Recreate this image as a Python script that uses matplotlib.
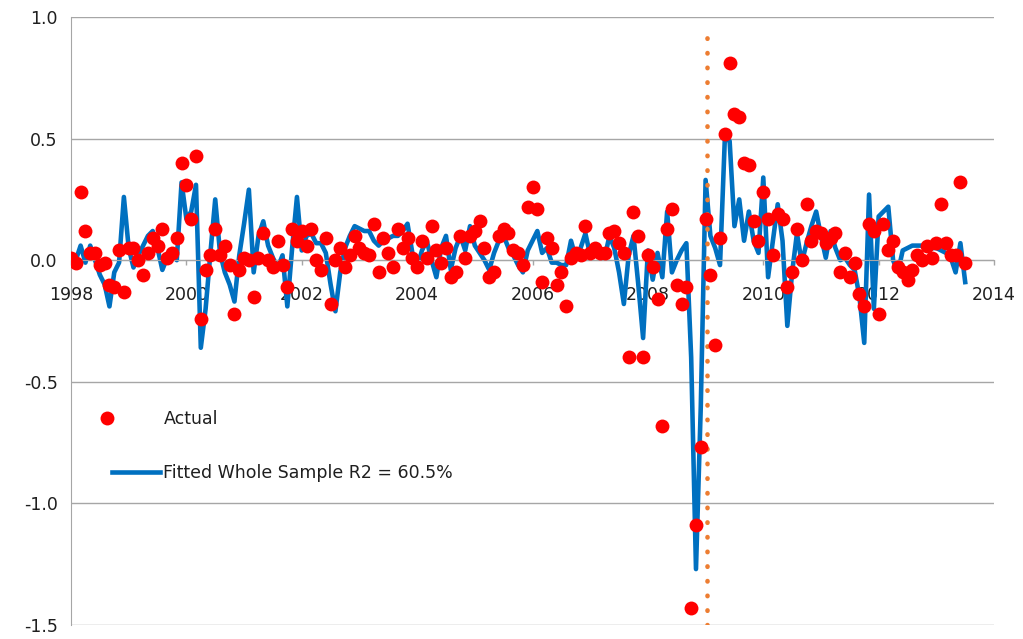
import numpy as np
import matplotlib
matplotlib.use("Agg")
import matplotlib.pyplot as plt
from matplotlib.legend_handler import HandlerLine2D

START_YEAR = 1998
EVENT_YEAR = 2009.02

X_TICKS = [1998, 2000, 2002, 2004, 2006, 2008, 2010, 2012, 2014]
Y_TICKS = [-1.5, -1.0, -0.5, 0.0, 0.5, 1.0]

LABEL_ACTUAL = "Actual"
LABEL_FITTED = "Fitted Whole Sample R2 = 60.5%"

# monthly values, Jan 1998 onwards
actual = [
    0.01, -0.01, 0.28, 0.12, 0.03, 0.03, -0.02, -0.01, -0.10, -0.11,
    0.04, -0.13, 0.05, 0.05, 0.00, -0.06, 0.03, 0.09, 0.06, 0.13,
    0.01, 0.03, 0.09, 0.40, 0.31, 0.17, 0.43, -0.24, -0.04, 0.02,
    0.13,
    0.02, 0.06, -0.02, -0.22, -0.04, 0.01, 0.00, -0.15, 0.01, 0.11,
    0.00, -0.03, 0.08, -0.02, -0.11, 0.13, 0.08, 0.12, 0.06, 0.13,
    0.00, -0.04, 0.09, -0.18, 0.00, 0.05, -0.03, 0.02, 0.10, 0.05,
    0.03, 0.02, 0.15,
    -0.05, 0.09, 0.03, -0.03, 0.13, 0.05, 0.09, 0.01, -0.03, 0.08,
    0.01, 0.14, 0.04, -0.01, 0.05, -0.07, -0.05, 0.10, 0.01, 0.10,
    0.12, 0.16, 0.05, -0.07, -0.05, 0.10, 0.13, 0.11, 0.04, 0.03,
    -0.02,
    0.22, 0.30, 0.21, -0.09, 0.09, 0.05, -0.10, -0.05, -0.19, 0.01,
    0.03, 0.02, 0.14, 0.03, 0.05, 0.03, 0.03, 0.11, 0.12, 0.07,
    0.03, -0.40, 0.20, 0.10, -0.40, 0.02, -0.03, -0.16, -0.68, 0.13,
    0.21, -0.10, -0.18, -0.11, -1.43, -1.09, -0.77, 0.17, -0.06, -0.35,
    0.09, 0.52, 0.81, 0.60, 0.59, 0.40, 0.39,
    0.16, 0.08, 0.28, 0.17, 0.02, 0.19, 0.17, -0.11, -0.05, 0.13,
    0.00, 0.23, 0.08, 0.12, 0.11, 0.07, 0.09, 0.11, -0.05, 0.03,
    -0.07, -0.01, -0.14, -0.19, 0.15, 0.12, -0.22, 0.15, 0.04, 0.08,
    -0.03, -0.05, -0.08, -0.04, 0.02, 0.00, 0.06, 0.01, 0.07, 0.23,
    0.07, 0.02, 0.02, 0.32, -0.01,
]

fitted = [
    0.01, 0.00, 0.06, -0.01, 0.06, 0.00, -0.06, -0.10, -0.19, -0.05,
    -0.01, 0.26, 0.05, -0.03, 0.02, 0.06, 0.10, 0.12, 0.05, -0.04,
    0.01, 0.03, 0.00, 0.32, 0.17, 0.20, 0.31, -0.36, -0.20, 0.03,
    0.25, 0.03, -0.05, -0.10, -0.17, 0.02, 0.15, 0.29, -0.05, 0.10,
    0.16, 0.06, 0.01, -0.03, 0.02, -0.19, 0.05, 0.26, 0.04, 0.10,
    0.11, 0.07, 0.07, 0.03, -0.10, -0.21, -0.05, 0.05, 0.10, 0.14,
    0.13, 0.12, 0.12, 0.08, 0.06, 0.08, 0.09, 0.10, 0.10, 0.12,
    0.15, 0.03, -0.03, 0.04, 0.08, 0.00, -0.07, 0.05, 0.10, -0.04,
    0.05, 0.10, 0.04, 0.14, 0.06, 0.03, 0.00, -0.04, 0.03, 0.08,
    0.10, 0.05, 0.02, -0.02, -0.05, 0.04, 0.08, 0.12, 0.03, 0.05,
    -0.01, -0.01, -0.02, -0.02, 0.08, 0.01, 0.05, 0.11, 0.02, 0.04,
    0.03, 0.01, 0.10, 0.05, -0.05, -0.18, 0.02, 0.10, -0.10, -0.32,
    0.04, -0.08, 0.03, -0.07, 0.20, -0.05, 0.00, 0.04, 0.07, -0.40,
    -1.27, -0.60, 0.33, 0.10, 0.05, -0.02, 0.50, 0.49, 0.14, 0.25,
    0.08, 0.20, 0.08, 0.03, 0.34, -0.07, 0.08, 0.23, 0.08, -0.27,
    -0.05, 0.11, -0.01, 0.07, 0.14, 0.20, 0.10, 0.01, 0.12, 0.05,
    0.00, 0.01, -0.02, -0.04, -0.15, -0.34, 0.27, -0.20, 0.18, 0.20,
    0.22, 0.00, -0.05, 0.04, 0.05, 0.06, 0.06, 0.06, 0.05, 0.05,
    0.05, 0.04, 0.03, 0.01, -0.05, 0.07, -0.09,
]

assert len(actual) == len(fitted)
months = START_YEAR + np.arange(len(actual)) / 12.0

GRID = "#A6A6A6"
TEXT = "#1F1F1F"
FS = 12.5


class LeftMarkerHandler(HandlerLine2D):
    # Excel puts the legend dot left of the line sample
    def get_xdata(self, legend, xdescent, ydescent, width, height, fontsize):
        mx = -xdescent - 0.1 * width
        return np.array([mx, mx]), np.array([mx])


fig = plt.figure(figsize=(10.23, 6.39), dpi=100)
ax = fig.add_axes([0.0694, 0.0219, 0.9023, 0.9515])

fit_line, = ax.plot(months, fitted, color="#0070C0", lw=3.3,
                    solid_joinstyle="round", zorder=2, label=LABEL_FITTED)
ax.axvline(EVENT_YEAR, ymin=0.0, ymax=0.988, color="#ED7D31", lw=3.3,
           linestyle=(0, (0.1, 3.1)), dash_capstyle="round", zorder=3)
dots, = ax.plot(months, actual, "o", color="#FF0000", ms=10, mew=0,
                zorder=4, label=LABEL_ACTUAL)

ax.set_xlim(X_TICKS[0], X_TICKS[-1])
ax.set_ylim(Y_TICKS[0], Y_TICKS[-1])

ax.set_xticks(X_TICKS)
ax.set_xticklabels([str(y) for y in X_TICKS])
ax.set_yticks(Y_TICKS)
ax.set_yticklabels([f"{v:.1f}" for v in Y_TICKS])

ax.yaxis.grid(True, color=GRID, lw=1.0)
ax.set_axisbelow(True)

for side in ("top", "right"):
    ax.spines[side].set_visible(False)
ax.spines["left"].set_color(GRID)
ax.spines["bottom"].set_color(GRID)
ax.spines["bottom"].set_position(("data", 0))

ax.tick_params(axis="y", length=0, pad=9.5, labelsize=FS, labelcolor=TEXT)
ax.tick_params(axis="x", direction="out", length=3.6, width=1.0, color=GRID,
               pad=15, labelsize=FS, labelcolor=TEXT)

ax.legend(handles=[dots, fit_line], loc="upper left",
          bbox_to_anchor=(0.0444, 0.3536), frameon=False, fontsize=FS,
          handlelength=2.76, handletextpad=0.2, labelspacing=2.1,
          borderpad=0, borderaxespad=0, labelcolor=TEXT,
          handler_map={dots: LeftMarkerHandler()})

fig.savefig("out.png", dpi=100)
